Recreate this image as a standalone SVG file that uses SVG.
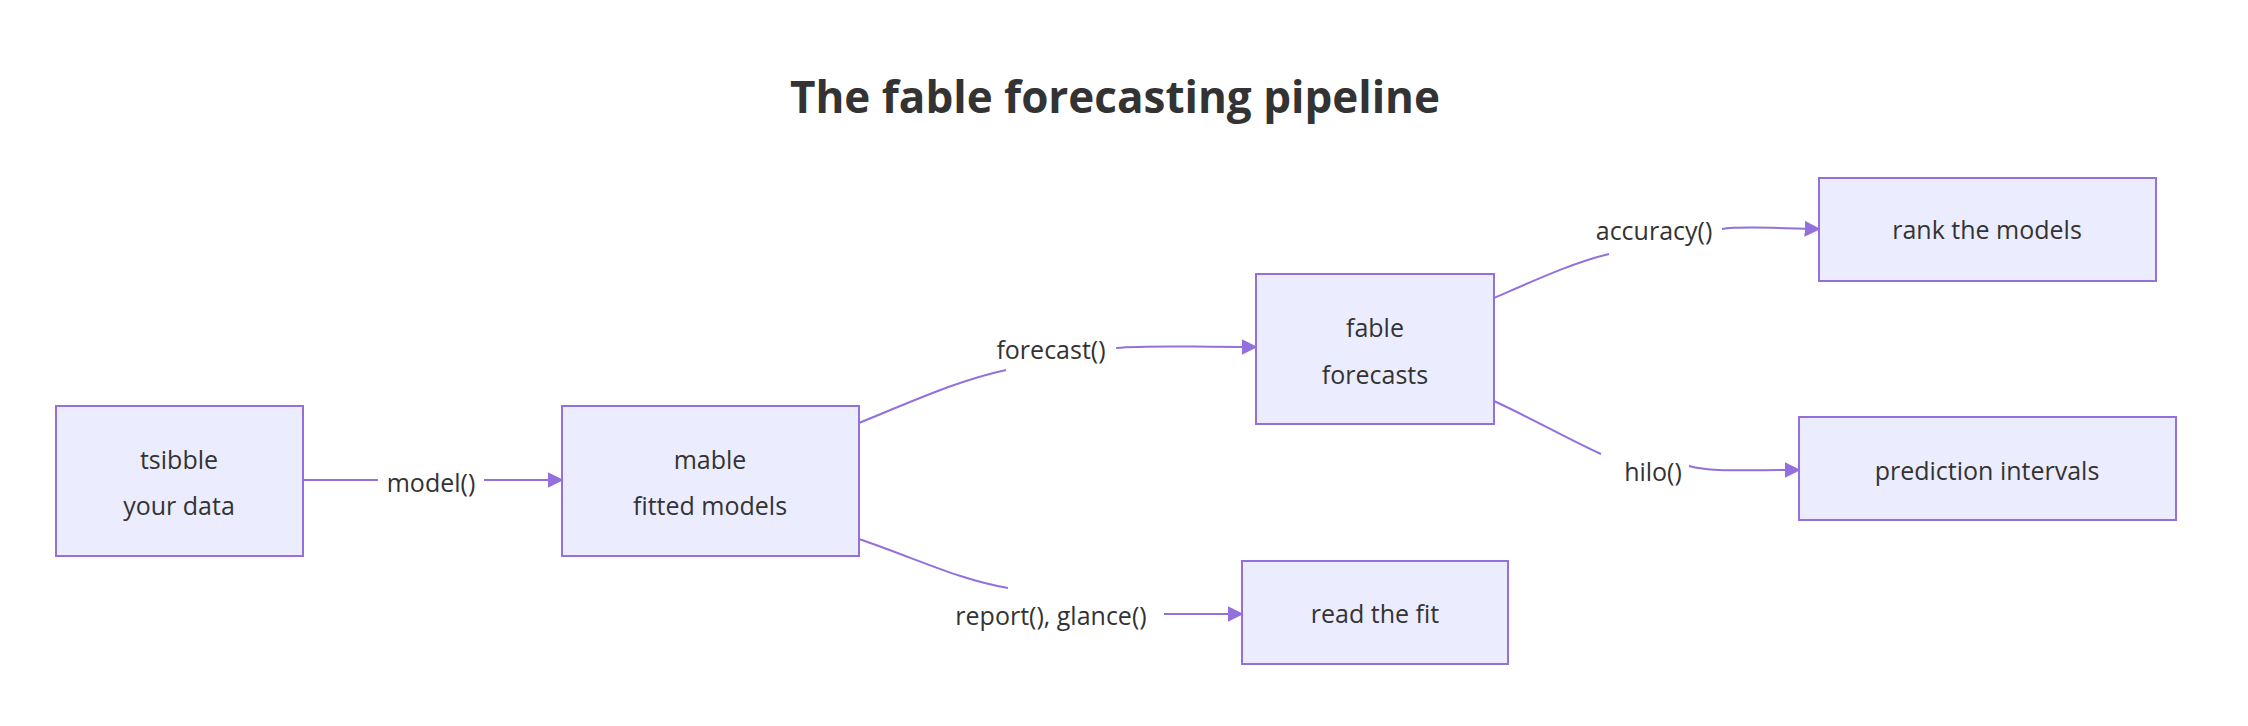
<svg xmlns="http://www.w3.org/2000/svg" width="2248" height="726" viewBox="0 0 2248 726">
<style>
.n rect{fill:#ECECFF;stroke:#9370DB;stroke-width:2}
text{font-family:"Open Sans","Noto Sans",sans-serif;fill:#333;font-size:25px;text-anchor:middle;dominant-baseline:central}
.e path{fill:none;stroke:#9370DB;stroke-width:2}
.t{font-size:44px;font-weight:bold}
</style>
<defs><marker id="a" viewBox="0 0 10 10" refX="9" refY="5" markerWidth="8" markerHeight="8" orient="auto"><path d="M0,0L10,5L0,10z" fill="#9370DB"/></marker></defs>
<rect width="2248" height="726" fill="#fff"/>
<text class="t" x="1115" y="96">The fable forecasting pipeline</text>
<g class="e">
<path d="M303,480H378"/><path d="M484,480H562" marker-end="url(#a)"/>
<path d="M859,423C920,398 960,380 1006,370"/><path d="M1116,348C1150,345 1180,347 1256,347" marker-end="url(#a)"/>
<path d="M859,539C920,560 960,580 1008,588"/><path d="M1164,614H1242" marker-end="url(#a)"/>
<path d="M1494,298C1540,278 1575,262 1609,254"/><path d="M1722,229C1740,226 1770,228 1819,229" marker-end="url(#a)"/>
<path d="M1494,401C1535,420 1570,440 1601,454"/><path d="M1689,466C1710,472 1740,470 1799,470" marker-end="url(#a)"/>
</g>
<g id="l"><text x="431" y="482">model()</text><text x="1051" y="349">forecast()</text><text x="1051" y="615">report(), glance()</text><text x="1654" y="230">accuracy()</text><text x="1653" y="471">hilo()</text></g>
<g id="tsibble" class="n"><rect x="56" y="406" width="247" height="150"/><text x="179" y="459">tsibble</text><text x="179" y="505">your data</text></g>
<g id="mable" class="n"><rect x="562" y="406" width="297" height="150"/><text x="710" y="459">mable</text><text x="710" y="505">fitted models</text></g>
<g id="fable" class="n"><rect x="1256" y="274" width="238" height="150"/><text x="1375" y="327">fable</text><text x="1375" y="374">forecasts</text></g>
<g id="rank" class="n"><rect x="1819" y="178" width="337" height="103"/><text x="1987" y="229">rank the models</text></g>
<g id="pi" class="n"><rect x="1799" y="417" width="377" height="103"/><text x="1987" y="470">prediction intervals</text></g>
<g id="fit" class="n"><rect x="1242" y="561" width="266" height="103"/><text x="1375" y="613">read the fit</text></g>
</svg>
